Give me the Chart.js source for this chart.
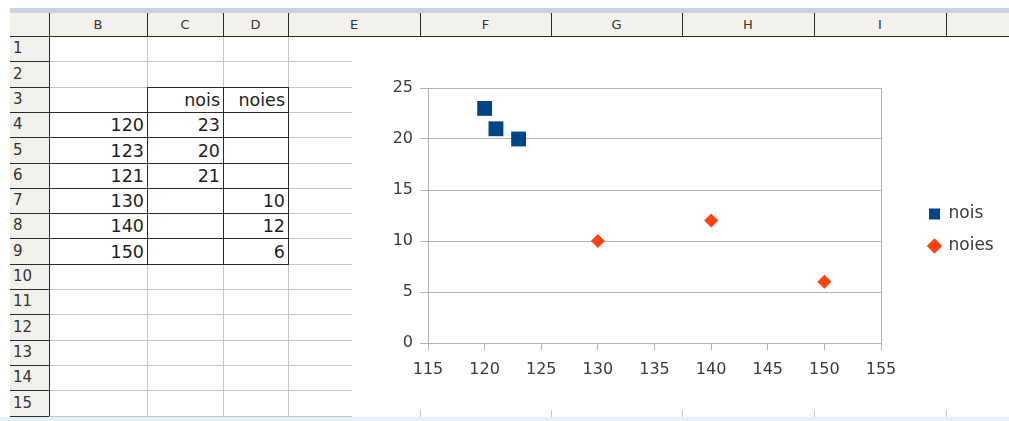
<!DOCTYPE html>
<html>
<head>
<meta charset="utf-8">
<script src="https://cdn.jsdelivr.net/npm/chart.js@4/dist/chart.umd.min.js"></script>
<style>
  html, body { margin: 0; padding: 0; background: #fff; overflow: hidden; }
  body { width: 1009px; height: 421px; position: relative; font-family: "DejaVu Sans", sans-serif; }
  #sheet { position: absolute; left: 0; top: 0; width: 1009px; height: 421px; }
  .ln { position: absolute; }
  .txt { position: absolute; white-space: nowrap; color: #1e1e1e; }
  #chartBox { position: absolute; left: 352px; top: 38px; width: 657px; height: 372px; background: #fff; }
  #chartBox canvas { position: absolute; left: 0; top: 0; }
</style>
</head>
<body>
<div id="sheet"></div>
<div id="chartBox"><canvas id="c" width="657" height="372"></canvas></div>
<script>
// ---- data (sheet cells B4:D9) ----
const xValues     = [120, 123, 121, 130, 140, 150];
const noisValues  = [23, 20, 21, null, null, null];
const noiesValues = [null, null, null, 10, 12, 6];
const seriesNames = ['nois', 'noies'];

// ---- sheet labels ----
const columnLetters = ['B', 'C', 'D', 'E', 'F', 'G', 'H', 'I'];
const rowNumbers = [1, 2, 3, 4, 5, 6, 7, 8, 9, 10, 11, 12, 13, 14, 15];

// ---- axis ranges ----
const xRange = { min: 115, max: 155, step: 5 };
const yRange = { min: 0, max: 25, step: 5 };

// ---- sheet geometry ----
const headerLeft = 10;
const colEdges = [49, 147, 223, 288, 420, 551, 682, 814, 946];
const headerTop = 13, headerBottom = 36, rowH = 25.3;
const rowTop = r => Math.round(headerBottom + (r - 1) * rowH);
const gridRight = 352;

const sheet = document.getElementById('sheet');
function box(x, y, w, h, color) {
  const d = document.createElement('div');
  d.className = 'ln';
  Object.assign(d.style, { left: x + 'px', top: y + 'px', width: w + 'px', height: h + 'px', background: color });
  sheet.appendChild(d);
}
function text(str, x, y, w, h, align, size, color) {
  const d = document.createElement('div');
  d.className = 'txt';
  d.textContent = str;
  Object.assign(d.style, {
    left: x + 'px', top: y + 'px', width: w + 'px', height: h + 'px',
    lineHeight: h + 'px', textAlign: align, fontSize: size + 'px'
  });
  if (color) d.style.color = color;
  sheet.appendChild(d);
}

const light = '#c6c6c6', dark = '#2a2a2a', headBg = '#f3f1ec';

// frame bands
box(headerLeft, 8, 1009 - headerLeft, 5, '#c5d3e2');
box(0, 417, 1009, 4, '#e4f1f9');
// header backgrounds
box(headerLeft, headerTop, 1009 - headerLeft, headerBottom - headerTop, headBg);
box(headerLeft, headerBottom, colEdges[0] - headerLeft, rowTop(16) - headerBottom, headBg);

// light cell grid
for (let r = 1; r <= 15; r++) box(colEdges[0], rowTop(r + 1), gridRight - colEdges[0], 1, light);
for (let i = 1; i <= 3; i++) box(colEdges[i], headerBottom, 1, rowTop(16) - headerBottom, light);
// column stubs below the chart
for (let i = 4; i < colEdges.length; i++) box(colEdges[i], 410, 1, 7, light);

// header separators
for (let i = 0; i < colEdges.length; i++) box(colEdges[i], headerTop, 1, headerBottom - headerTop, dark);
box(headerLeft, headerBottom, 1009 - headerLeft, 1, dark);
box(colEdges[0], headerTop, 1, rowTop(16) - headerTop, dark);
for (let r = 1; r <= 15; r++) box(headerLeft, rowTop(r + 1), colEdges[0] - headerLeft, 1, dark);

// table borders B3:D9 (B3 has no top border)
const tTop = rowTop(3), tBottom = rowTop(10);
box(colEdges[1], tTop, colEdges[3] - colEdges[1] + 1, 1, dark);
for (let r = 4; r <= 10; r++) box(colEdges[0], rowTop(r), colEdges[3] - colEdges[0] + 1, 1, dark);
for (let i = 1; i <= 3; i++) box(colEdges[i], tTop, 1, tBottom - tTop + 1, dark);

// column letters
columnLetters.forEach((L, i) => {
  text(L, colEdges[i], headerTop, colEdges[i + 1] - colEdges[i], headerBottom - headerTop, 'center', 13, '#333');
});
// row numbers
rowNumbers.forEach(n => {
  text(String(n), 13, rowTop(n), 34, rowTop(n + 1) - rowTop(n), 'left', 15, '#333');
});
// cell contents
const cellSize = 17.5;
function cell(col, row, str) {
  const x = colEdges[col], w = colEdges[col + 1] - colEdges[col] - 3;
  text(str, x, rowTop(row) + 1, w, rowTop(row + 1) - rowTop(row), 'right', cellSize);
}
cell(1, 3, seriesNames[0]);
cell(2, 3, seriesNames[1]);
xValues.forEach((x, i) => {
  cell(0, 4 + i, String(x));
  if (noisValues[i] !== null) cell(1, 4 + i, String(noisValues[i]));
  if (noiesValues[i] !== null) cell(2, 4 + i, String(noiesValues[i]));
});

// ---- chart ----
const toPoints = ys => xValues.map((x, i) => ys[i] === null ? null : { x: x, y: ys[i] }).filter(Boolean);

const gridGray = '#b3b3b3';
const labelColor = '#3a3a3a';
const legendFontSize = 17;
const legendPad = 15, legendBox = 11;

// legend column: items start 577px into the canvas, plot ends at 529px
const mctx = document.createElement('canvas').getContext('2d');
mctx.font = legendFontSize + 'px "DejaVu Sans"';
const textW = Math.max(...seriesNames.map(s => mctx.measureText(s).width));
const legendW = legendPad + legendBox + legendFontSize / 2 + textW + 10;
const legendLeft = 577 - legendPad;
const plotRight = 529;
const padRight = 657 - legendLeft - legendW;

const lastX = (xRange.max - xRange.min) / xRange.step;

new Chart(document.getElementById('c'), {
  type: 'scatter',
  data: {
    datasets: [
      {
        label: seriesNames[0],
        data: toPoints(noisValues),
        pointStyle: 'rect',
        pointRadius: 10.5,
        backgroundColor: '#004586',
        borderColor: '#004586',
        borderWidth: 0
      },
      {
        label: seriesNames[1],
        data: toPoints(noiesValues),
        pointStyle: 'rectRot',
        pointRadius: 7,
        backgroundColor: '#ff420e',
        borderColor: '#ff420e',
        borderWidth: 0
      }
    ]
  },
  options: {
    responsive: false,
    animation: false,
    devicePixelRatio: 1,
    events: [],
    layout: { padding: { top: 50, bottom: 0, left: 0, right: padRight } },
    plugins: {
      tooltip: { enabled: false },
      legend: {
        position: 'right',
        align: 'center',
        fullSize: false,
        // empty title only reserves room so the entries sit a little lower
        title: { display: true, text: '', font: { size: 15, lineHeight: 1.2 }, padding: { top: 5.5, bottom: 5.5 } },
        labels: {
          usePointStyle: true,
          boxWidth: legendBox,
          boxHeight: legendBox,
          padding: legendPad,
          color: labelColor,
          font: { family: '"DejaVu Sans"', size: legendFontSize }
        }
      }
    },
    scales: {
      x: {
        type: 'linear',
        min: xRange.min,
        max: xRange.max,
        ticks: {
          stepSize: xRange.step,
          padding: 10,
          maxRotation: 0,
          color: labelColor,
          font: { family: '"DejaVu Sans"', size: 16 }
        },
        grid: {
          color: c => (c.index === 0 || c.index === lastX) ? gridGray : 'rgba(0,0,0,0)',
          tickColor: gridGray,
          tickLength: 7,
          lineWidth: 1
        },
        border: { display: true, color: gridGray },
        afterFit: s => { s.height = 67; }
      },
      y: {
        type: 'linear',
        min: yRange.min,
        max: yRange.max,
        ticks: {
          stepSize: yRange.step,
          padding: 7,
          color: labelColor,
          font: { family: '"DejaVu Sans"', size: 16 }
        },
        grid: { color: gridGray, tickColor: gridGray, tickLength: 8, lineWidth: 1 },
        border: { display: true, color: gridGray },
        afterFit: s => { s.width = 76; }
      },
      gap: {
        type: 'linear',
        position: 'right',
        display: true,
        grid: { display: false },
        ticks: { display: false },
        border: { display: false },
        afterFit: s => { s.width = legendLeft - plotRight; }
      }
    }
  }
});
</script>
</body>
</html>
